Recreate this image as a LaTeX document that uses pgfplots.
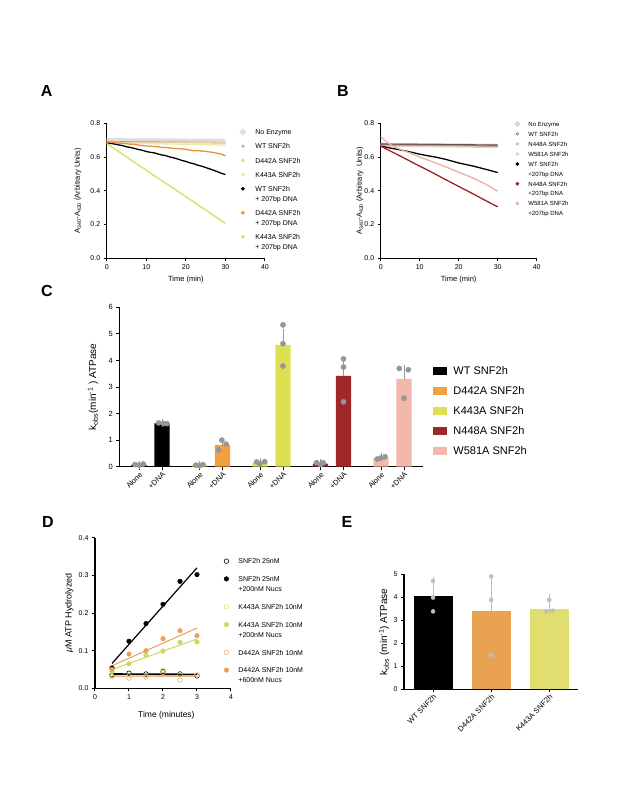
\documentclass[border=0pt]{standalone}
\usepackage{fontspec}
\setmainfont{Liberation Sans}
\usepackage{pgfplots}
\pgfplotsset{compat=1.18}

\definecolor{aNo}{RGB}{222,222,222}
\definecolor{aWT}{RGB}{150,140,140}
\definecolor{aD}{RGB}{240,205,160}
\definecolor{aK}{RGB}{238,232,170}
\definecolor{aDd}{RGB}{235,145,60}
\definecolor{aKd}{RGB}{215,222,100}
\definecolor{bNo}{RGB}{228,210,210}
\definecolor{bWT}{RGB}{100,85,85}
\definecolor{bN}{RGB}{185,140,140}
\definecolor{bW}{RGB}{240,205,195}
\definecolor{bNd}{RGB}{160,35,35}
\definecolor{bWd}{RGB}{238,175,165}
\definecolor{cD}{RGB}{240,160,60}
\definecolor{cK}{RGB}{221,224,80}
\definecolor{cN}{RGB}{160,40,40}
\definecolor{cW}{RGB}{242,184,172}
\definecolor{cDot}{RGB}{150,150,150}
\definecolor{eD}{RGB}{232,162,82}
\definecolor{eK}{RGB}{224,222,110}
\definecolor{eDot}{RGB}{190,190,190}
\definecolor{dY}{RGB}{205,218,95}
\definecolor{dYo}{RGB}{225,228,140}
\definecolor{dO}{RGB}{232,160,90}
\definecolor{dOo}{RGB}{235,180,130}

\newcommand\fs[2]{\fontsize{#1}{#2}\selectfont}
\newcommand\sA{\rule[-2pt]{0pt}{9pt}}
\newcommand\sB{\rule[-1.5pt]{0pt}{7.5pt}}
\newcommand\sD{\rule[-2pt]{0pt}{8.5pt}}

\pgfplotsset{
  gp/.style={scale only axis, axis x line*=bottom, axis y line*=left,
    axis line style={line width=1.2pt, black, -}, tick align=outside,
    major tick length=3pt, tick style={black, line width=1pt},
    /pgf/number format/assume math mode=true,
    legend style={draw=none, fill=none}},
  legA/.style={legend image code/.code={\fill[##1] (0pt,-5.5pt) circle (1.1pt);}},
  legAo/.style={legend image code/.code={\draw[##1,line width=0.5pt] (0pt,-5.5pt) circle (1.3pt);}},
  legB/.style={legend image code/.code={\fill[##1] (0pt,-4.35pt) circle (1.1pt);}},
  legBo/.style={legend image code/.code={\draw[##1,line width=0.5pt] (0pt,-4.35pt) circle (1.3pt);}},
  legD/.style={legend image code/.code={\draw[##1] plot coordinates {(0pt,-5pt)};}},
  legC/.style={legend image code/.code={\fill[##1] (0pt,-4pt) rectangle (14pt,4pt);}},
  onedec/.style={yticklabel style={/pgf/number format/fixed, /pgf/number format/fixed zerofill, /pgf/number format/precision=1}},
}

\begin{document}
\begin{tikzpicture}
\fill[white] (0,0) rectangle (617pt,-798pt);
\path[use as bounding box] (0,0) rectangle (617pt,-798pt);

\node[font=\bfseries\fs{16}{16}] at (46.7pt,-91pt) {A};
\node[font=\bfseries\fs{16}{16}] at (343pt,-91pt) {B};
\node[font=\bfseries\fs{16}{16}] at (47pt,-291pt) {C};
\node[font=\bfseries\fs{16}{16}] at (48pt,-522pt) {D};
\node[font=\bfseries\fs{16}{16}] at (347pt,-522pt) {E};

% ---------- A ----------
\begin{axis}[gp, at={(106.7pt,-258.3pt)}, anchor=south west,
  width=158.3pt, height=135pt,
  xmin=0, xmax=40, ymin=0, ymax=0.8,
  xtick={0,10,20,30,40}, ytick={0,0.2,0.4,0.6,0.8}, onedec,
  tick label style={font=\fs{7}{8}},
  xlabel={Time (min)},
  ylabel={A\textsubscript{340}-A\textsubscript{420} (Arbitrary Units)},
  label style={font=\fs{7.5}{9}},
  xlabel style={at={(axis description cs:0.5,-0.156)}, anchor=center},
  ylabel style={at={(axis description cs:-0.181,0.5)}, anchor=center},
  legA,
  legend style={at={(axis description cs:0.8225,0.993)}, anchor=north west,
    font=\fs{7}{9.8}, cells={anchor=north west, align=left},
    nodes={inner xsep=2pt, inner ysep=1pt, text depth=},
    row sep=3pt, column sep=7.6pt, inner xsep=3pt, inner ysep=2pt}]
\addplot[color=aNo, line width=3.5pt] coordinates {(0,0.702) (5,0.701) (10,0.700) (15,0.700) (20,0.699) (25,0.699) (30,0.698)};
\addlegendentry{\sA No Enzyme}
\addplot[color=aWT, line width=1.3pt, legAo] coordinates {(0,0.691) (5,0.690) (10,0.689) (15,0.688) (20,0.687) (25,0.686) (30,0.685)};
\addlegendentry{\sA WT SNF2h}
\addplot[color=aD, line width=1.3pt] coordinates {(0,0.689) (5,0.688) (10,0.687) (15,0.687) (20,0.686) (25,0.685) (30,0.684)};
\addlegendentry{\sA D442A SNF2h}
\addplot[color=aK, line width=1.3pt] coordinates {(0,0.684) (5,0.682) (10,0.680) (15,0.678) (20,0.676) (25,0.674) (30,0.671)};
\addlegendentry{\sA K443A SNF2h}
\addplot[color=black, line width=1.3pt] coordinates {
 (0,0.685) (1,0.681) (2,0.677) (3,0.672) (4,0.668) (5,0.661) (6,0.657) (7,0.651)
 (8,0.645) (9,0.640) (10,0.633) (11,0.628) (12,0.625) (13,0.618) (14,0.612) (15,0.608)
 (16,0.600) (17,0.595) (18,0.588) (19,0.580) (20,0.574) (21,0.566) (22,0.560) (23,0.552)
 (24,0.546) (25,0.538) (26,0.530) (27,0.522) (28,0.513) (29,0.504) (30,0.496)};
\addlegendentry{\sA WT SNF2h\\\sA + 207bp DNA}
\addplot[color=aDd, line width=1.3pt] coordinates {
 (0,0.690) (1,0.688) (2,0.686) (3,0.683) (4,0.682) (5,0.679) (6,0.676) (7,0.675)
 (8,0.671) (9,0.668) (10,0.667) (11,0.664) (12,0.662) (13,0.661) (14,0.657) (15,0.656)
 (16,0.654) (17,0.651) (18,0.650) (19,0.648) (20,0.646) (21,0.641) (22,0.637) (23,0.638)
 (24,0.636) (25,0.634) (26,0.630) (27,0.627) (28,0.622) (29,0.617) (30,0.607)};
\addlegendentry{\sA D442A SNF2h\\\sA + 207bp DNA}
\addplot[color=aKd, line width=1.3pt] coordinates {
 (0,0.680) (2,0.649) (4,0.617) (6,0.585) (8,0.553) (10,0.522) (12,0.490) (14,0.459)
 (16,0.428) (18,0.397) (20,0.365) (22,0.334) (24,0.302) (26,0.270) (28,0.239) (30,0.207)};
\addlegendentry{\sA K443A SNF2h\\\sA + 207bp DNA}
\end{axis}

% ---------- B ----------
\begin{axis}[gp, at={(380.7pt,-258.3pt)}, anchor=south west,
  width=156pt, height=135pt,
  xmin=0, xmax=40, ymin=0, ymax=0.8,
  xtick={0,10,20,30,40}, ytick={0,0.2,0.4,0.6,0.8}, onedec,
  tick label style={font=\fs{7}{8}},
  xlabel={Time (min)},
  ylabel={A\textsubscript{340}-A\textsubscript{420} (Arbitrary \ Units)},
  label style={font=\fs{7.5}{9}},
  xlabel style={at={(axis description cs:0.5,-0.156)}, anchor=center},
  ylabel style={at={(axis description cs:-0.133,0.5)}, anchor=center},
  legB,
  legend style={at={(axis description cs:0.839,1.044)}, anchor=north west,
    font=\fs{6}{9.8}, cells={anchor=north west, align=left},
    nodes={inner xsep=2pt, inner ysep=0.5pt, text depth=},
    row sep=1.3pt, column sep=6.5pt, inner xsep=3pt, inner ysep=2pt}]
\addplot[color=bNo, line width=3pt] coordinates {(0,0.676) (10,0.674) (20,0.672) (30,0.670)};
\addlegendentry{\sB No Enzyme}
\addplot[color=bWT, line width=1.6pt, legBo] coordinates {(0,0.676) (10,0.674) (20,0.672) (30,0.670)};
\addlegendentry{\sB WT SNF2h}
\addplot[color=bN, line width=1.3pt, legBo] coordinates {(0,0.670) (10,0.668) (20,0.666) (30,0.664)};
\addlegendentry{\sB N448A SNF2h}
\addplot[color=bW, line width=1.3pt] coordinates {(0,0.665) (10,0.663) (20,0.660) (30,0.657)};
\addlegendentry{\sB W581A SNF2h}
\addplot[color=black, line width=1.3pt] coordinates {
 (0,0.665) (2,0.655) (4,0.647) (6,0.638) (8,0.628) (10,0.617) (12,0.608) (14,0.600)
 (16,0.590) (18,0.578) (20,0.565) (22,0.555) (24,0.545) (26,0.533) (28,0.521) (30,0.508)};
\addlegendentry{\sB WT SNF2h\\\sB +207bp DNA}
\addplot[color=bNd, line width=1.3pt] coordinates {
 (0,0.665) (2,0.641) (4,0.618) (6,0.594) (8,0.570) (10,0.546) (12,0.523) (14,0.499)
 (16,0.474) (18,0.450) (20,0.426) (22,0.402) (24,0.378) (26,0.353) (28,0.329) (30,0.305)};
\addlegendentry{\sB N448A SNF2h\\\sB +207bp DNA}
\addplot[color=bWd, line width=1.3pt] coordinates {
 (0,0.720) (1,0.700) (2,0.682) (3,0.667) (4,0.655) (6,0.637) (8,0.620) (10,0.600)
 (12,0.583) (14,0.566) (16,0.548) (18,0.530) (20,0.510) (22,0.492) (24,0.472) (26,0.450)
 (28,0.425) (30,0.398)};
\addlegendentry{\sB W581A SNF2h\\\sB +207bp DNA}
\end{axis}

% ---------- C ----------
\begin{axis}[gp, at={(119.3pt,-466.7pt)}, anchor=south west,
  width=303.4pt, height=159.4pt, clip=false,
  xmin=-19.7, xmax=283.7, ymin=0, ymax=6,
  xtick={0,23,60.5,83.5,121,144,181.5,204.5,242,265},
  xticklabels={Alone,+DNA,Alone,+DNA,Alone,+DNA,Alone,+DNA,Alone,+DNA},
  ytick={0,1,2,3,4,5,6},
  yticklabel style={font=\fs{7.5}{9}},
  xticklabel style={font=\fs{7.5}{9}, rotate=45, anchor=north east, inner sep=1pt},
  ylabel={k\textsubscript{obs}(min\textsuperscript{-1} ) ATPase},
  ylabel style={font=\fs{10}{12}, at={(axis description cs:-0.0867,0.5)}, anchor=center},
  legend style={at={(axis description cs:1.024,0.6506)}, anchor=north west,
    font=\fs{11}{13}, cells={anchor=west},
    nodes={inner xsep=2pt, inner ysep=1pt, text height=8pt, text depth=2.3pt},
    row sep=7.7pt, column sep=4.3pt, inner xsep=3pt, inner ysep=2pt}]
\addplot[ybar, bar width=15.3, bar shift=0pt, fill=black, draw=none, legC,
  error bars/.cd, y dir=plus, y explicit, error bar style={line width=1pt, cDot},
  error mark options={line width=1pt, cDot, mark size=4pt}]
  coordinates {(0,0.07) +- (0,0.01) (23,1.63) +- (0,0.01)};
\addlegendentry{WT SNF2h}
\addplot[ybar, bar width=15.3, bar shift=0pt, fill=cD, draw=none, legC,
  error bars/.cd, y dir=plus, y explicit, error bar style={line width=1pt, cDot},
  error mark options={line width=1pt, cDot, mark size=4pt}]
  coordinates {(60.5,0.05) +- (0,0.01) (83.5,0.82) +- (0,0.11)};
\addlegendentry{D442A SNF2h}
\addplot[ybar, bar width=15.3, bar shift=0pt, fill=cK, draw=none, legC,
  error bars/.cd, y dir=plus, y explicit, error bar style={line width=1pt, cDot},
  error mark options={line width=1pt, cDot, mark size=4pt}]
  coordinates {(121,0.16) +- (0,0.02) (144,4.59) +- (0,0.45)};
\addlegendentry{K443A SNF2h}
\addplot[ybar, bar width=15.3, bar shift=0pt, fill=cN, draw=none, legC,
  error bars/.cd, y dir=plus, y explicit, error bar style={line width=1pt, cDot},
  error mark options={line width=1pt, cDot, mark size=4pt}]
  coordinates {(181.5,0.12) +- (0,0.02) (204.5,3.42) +- (0,0.50)};
\addlegendentry{N448A SNF2h}
\addplot[ybar, bar width=15.3, bar shift=0pt, fill=cW, draw=none, legC,
  error bars/.cd, y dir=plus, y explicit, error bar style={line width=1pt, cDot},
  error mark options={line width=1pt, cDot, mark size=4pt}]
  coordinates {(242,0.33) +- (0,0.03) (265,3.31) +- (0,0.37)};
\addlegendentry{W581A SNF2h}
\addplot[only marks, mark=*, mark size=2.6pt, color=cDot, forget plot] coordinates {
 (-4,0.08) (0,0.06) (4.3,0.10)
 (19.6,1.65) (24.6,1.63) (28,1.62)
 (56.9,0.06) (60.5,0.04) (63.9,0.08)
 (79.5,0.63) (82.9,1.00) (87.2,0.85)
 (117.7,0.18) (121,0.12) (125.7,0.19)
 (144,5.34) (144,4.63) (144,3.79)
 (177.5,0.15) (181.5,0.08) (184.1,0.15)
 (204.5,4.06) (204.5,3.75) (204.5,2.44)
 (238.3,0.29) (242,0.33) (246,0.375)
 (260.3,3.70) (269.3,3.65) (265,2.58)};
\end{axis}

% ---------- D ----------
\begin{axis}[gp, at={(95pt,-688.3pt)}, anchor=south west,
  width=136pt, height=150.6pt,
  xmin=0, xmax=4, ymin=0, ymax=0.4,
  xtick={0,1,2,3,4}, ytick={0,0.1,0.2,0.3,0.4}, onedec,
  tick label style={font=\fs{7}{8}},
  xlabel={Time (minutes)},
  ylabel={\textit{μ}M ATP Hydrolyzed},
  xlabel style={font=\fs{8.5}{10}, at={(axis description cs:0.525,-0.182)}, anchor=center},
  ylabel style={font=\fs{9}{11}, at={(axis description cs:-0.189,0.5)}, anchor=center},
  legD,
  legend style={at={(axis description cs:0.926,0.892)}, anchor=north west,
    font=\fs{7}{10.2}, cells={anchor=north west, align=left},
    nodes={inner xsep=2pt, inner ysep=1pt, text depth=},
    row sep=7pt, column sep=7.7pt, inner xsep=3pt, inner ysep=2pt}]
\addplot[only marks, mark=o, mark size=2.3pt, mark options={line width=0.6pt}, color=black]
  coordinates {(0.5,0.036) (1,0.040) (1.5,0.038) (2,0.045) (2.5,0.038) (3,0.033)};
\addlegendentry{\sD SNF2h 25nM}
\addplot[only marks, mark=*, mark size=2.3pt, color=black]
  coordinates {(0.5,0.054) (1,0.125) (1.5,0.172) (2,0.223) (2.5,0.284) (3,0.302)};
\addlegendentry{\sD SNF2h 25nM\\\sD +200nM Nucs}
\addplot[only marks, mark=o, mark size=2.3pt, mark options={line width=0.6pt}, color=dYo]
  coordinates {(0.5,0.031) (1,0.033) (1.5,0.034) (2,0.048) (2.5,0.036) (3,0.037)};
\addlegendentry{\sD K443A SNF2h 10nM}
\addplot[only marks, mark=*, mark size=2.3pt, color=dY]
  coordinates {(0.5,0.045) (1,0.065) (1.5,0.088) (2,0.099) (2.5,0.122) (3,0.123)};
\addlegendentry{\sD K443A SNF2h 10nM\\\sD +200nM Nucs}
\addplot[only marks, mark=o, mark size=2.3pt, mark options={line width=0.6pt}, color=dOo]
  coordinates {(0.5,0.032) (1,0.027) (1.5,0.030) (2,0.042) (2.5,0.022) (3,0.035)};
\addlegendentry{\sD D442A SNF2h 10nM}
\addplot[only marks, mark=*, mark size=2.3pt, color=dO]
  coordinates {(0.5,0.050) (1,0.091) (1.5,0.100) (2,0.132) (2.5,0.153) (3,0.140)};
\addlegendentry{\sD D442A SNF2h 10nM\\\sD +600nM Nucs}
\addplot[black, line width=1.2pt, forget plot] coordinates {(0.5,0.066) (3,0.320)};
\addplot[dO, line width=1pt, forget plot] coordinates {(0.5,0.060) (3,0.160)};
\addplot[dY, line width=1pt, forget plot] coordinates {(0.5,0.050) (3,0.131)};
\addplot[dOo, line width=1pt, forget plot] coordinates {(0.5,0.031) (3,0.031)};
\addplot[dYo, line width=1pt, forget plot] coordinates {(0.5,0.035) (3,0.035)};
\addplot[black, line width=1.6pt, forget plot] coordinates {(0.5,0.038) (3,0.037)};
\end{axis}

% ---------- E ----------
\begin{axis}[gp, at={(404pt,-689.3pt)}, anchor=south west,
  width=174.3pt, height=115pt, clip=false,
  xmin=-0.5, xmax=2.5, ymin=0, ymax=5,
  xtick={0,1,2}, xticklabels={WT SNF2h,D442A SNF2h,K443A SNF2h},
  ytick={0,1,2,3,4,5},
  yticklabel style={font=\fs{7}{8}},
  xticklabel style={font=\fs{7.5}{9}, rotate=45, anchor=north east, inner sep=1pt},
  ylabel={k\textsubscript{obs} (min\textsuperscript{-1}) ATPase},
  ylabel style={font=\fs{10}{12}, at={(axis description cs:-0.1147,0.5)}, anchor=center}]
\addplot[ybar, bar width=0.67, bar shift=0pt, fill=black, draw=none,
  error bars/.cd, y dir=plus, y explicit, error bar style={line width=1pt, eDot},
  error mark options={line width=1pt, eDot, mark size=10pt}]
  coordinates {(0,4.06) +- (0,0.37)};
\addplot[ybar, bar width=0.67, bar shift=0pt, fill=eD, draw=none,
  error bars/.cd, y dir=plus, y explicit, error bar style={line width=1pt, eDot},
  error mark options={line width=1pt, eDot, mark size=10pt}]
  coordinates {(1,3.42) +- (0,1.03)};
\addplot[ybar, bar width=0.67, bar shift=0pt, fill=eK, draw=none,
  error bars/.cd, y dir=plus, y explicit, error bar style={line width=1pt, eDot},
  error mark options={line width=1pt, eDot, mark size=10pt}]
  coordinates {(2,3.51) +- (0,0.20)};
\addplot[only marks, mark=*, mark size=2pt, color=eDot] coordinates {
 (0,4.71) (0,3.99) (0,3.39) (1,4.91) (1,3.89) (1,1.49) (2,3.89) (1.943,3.39) (2.057,3.42)};
\end{axis}
\end{tikzpicture}
\end{document}
